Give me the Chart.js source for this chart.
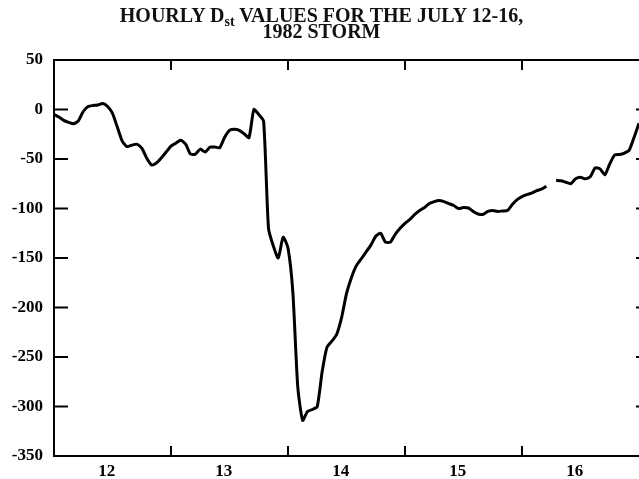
<!DOCTYPE html>
<html>
<head>
<meta charset="utf-8">
<script src="https://cdn.jsdelivr.net/npm/chart.js@4.4.1/dist/chart.umd.min.js"></script>
<style>
  html, body { margin: 0; padding: 0; background: #fff; overflow: hidden; }
  #wrap { position: relative; width: 639px; height: 479px; overflow: hidden; }
  #title {
    position: absolute; top: 8px; left: 2px; width: 639px; text-align: center;
    font: bold 20px "Liberation Serif", "DejaVu Serif", serif; line-height: 15.5px; color: #111;
  }
  #title sub { font-size: 14px; vertical-align: -4px; line-height: 0; }
  #box { position: absolute; left: 0; top: 0; width: 660px; height: 479px; }
</style>
</head>
<body>
<div id="wrap">
  <div id="box"><canvas id="dstChart"></canvas></div>
  <div id="title">HOURLY D<sub>st</sub> VALUES FOR THE JULY 12-16,<br>1982 STORM</div>
</div>
<script>
// hourly Dst (nT), starting July 12 00 UT; null = missing hour
const startDay = 12;
const dstHourly = [
  -5, -7.5, -11, -13, -14.5, -11.5, -2, 3, 4, 4.5, 6, 3,
  -4, -18, -32, -37.5, -36, -35, -39, -49, -56, -54, -49, -43,
  -37, -34, -31, -35, -45, -45, -40, -43, -38, -38, -38.5, -28,
  -21, -20, -21, -24.5, -28.5, 0, -5, -12, -120, -138, -150, -129,
  -140, -185, -280, -314, -305, -303, -300, -265, -240, -234, -227, -210,
  -186, -170, -158, -151, -144, -137, -128, -125, -134, -134, -126, -120,
  -115, -111, -106, -102, -99, -95, -93, -92, -93, -95, -97, -100,
  -99, -99.5, -103, -105.5, -106, -103, -102, -103, -102.5, -102, -96, -91,
  -88, -86, -84.5, -82, -80.5, -77.5, null, -71.5, -72, -73.5, -75, -70,
  -68.5, -70, -68, -59, -60, -66, -55, -46, -45.5, -44, -41, -28,
  -14
];
const dayLabels = ['12', '13', '14', '15', '16'];
const dayBounds = [13, 14, 15, 16];
const yTicks = [50, 0, -50, -100, -150, -200, -250, -300, -350];

const points = dstHourly.map((v, i) => ({ x: startDay + i / 24, y: v }));

const tickFont = { family: '"Liberation Serif", serif', size: 17, weight: 'bold' };

// frame + inward tick marks like the printed figure
const frameTicks = {
  id: 'frameTicks',
  afterDraw(chart) {
    const { ctx, chartArea: a, scales } = chart;
    ctx.save();
    ctx.strokeStyle = '#000';
    ctx.lineWidth = 2;
    ctx.strokeRect(a.left, a.top, a.right - a.left, a.bottom - a.top);
    ctx.beginPath();
    dayBounds.forEach(d => {
      const px = scales.x.getPixelForValue(d);
      ctx.moveTo(px, a.top); ctx.lineTo(px, a.top + 10);
      ctx.moveTo(px, a.bottom); ctx.lineTo(px, a.bottom - 10);
    });
    yTicks.forEach(v => {
      const py = scales.y.getPixelForValue(v);
      ctx.moveTo(a.left, py); ctx.lineTo(a.left + 14, py);
      ctx.moveTo(a.right, py); ctx.lineTo(a.right - 14, py);
    });
    ctx.stroke();
    ctx.restore();
  }
};

new Chart(document.getElementById('dstChart').getContext('2d'), {
  type: 'line',
  data: {
    datasets: [{
      data: points,
      borderColor: '#000',
      borderWidth: 3,
      pointRadius: 0,
      tension: 0.2,
      spanGaps: false
    }]
  },
  options: {
    responsive: true,
    maintainAspectRatio: false,
    animation: false,
    layout: { padding: { top: 60, right: 10, left: 0, bottom: 0 } },
    plugins: { legend: { display: false }, tooltip: { enabled: false } },
    scales: {
      x: {
        type: 'linear',
        min: 12,
        max: 17.094,
        afterBuildTicks: s => { s.ticks = dayLabels.map((l, i) => ({ value: startDay + i + 0.45 })); },
        afterFit: s => { s.height = 23; },
        ticks: {
          color: '#000', font: tickFont, padding: 5, maxRotation: 0,
          callback: (v, i) => dayLabels[i]
        },
        grid: { display: false, drawTicks: false },
        border: { display: false }
      },
      y: {
        min: -350,
        max: 50,
        afterBuildTicks: s => { s.ticks = yTicks.map(v => ({ value: v })); },
        afterFit: s => { s.width = 54; },
        ticks: { color: '#000', font: tickFont, padding: 11 },
        grid: { display: false, drawTicks: false },
        border: { display: false }
      }
    }
  },
  plugins: [frameTicks]
});
</script>
</body>
</html>
